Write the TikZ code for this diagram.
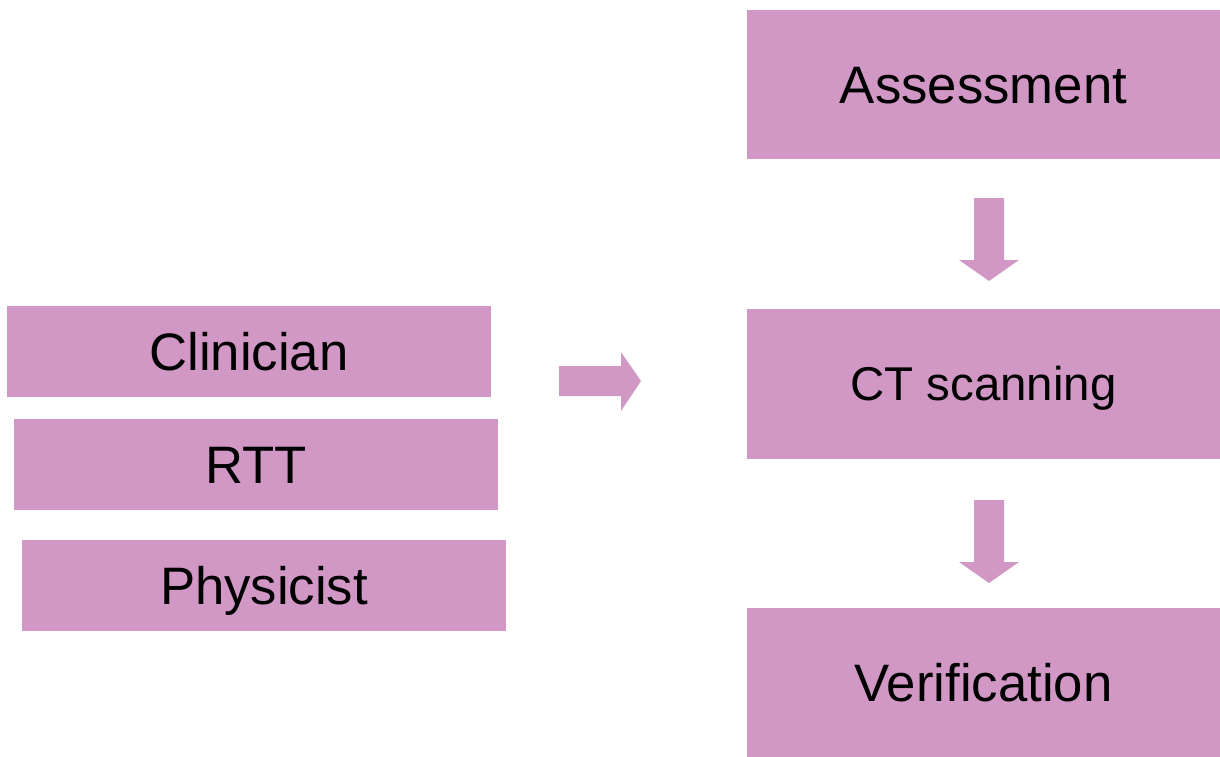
\documentclass[tikz,border=0pt]{standalone}
\usepackage{fontspec}
\setmainfont{Liberation Sans}
\usetikzlibrary{positioning}
\definecolor{orchid}{HTML}{D197C5}

\tikzset{
  rolebox/.style={fill=orchid,minimum width=9.68cm,minimum height=1.82cm,
    inner sep=0pt,text height=21.5pt,text depth=0pt,font=\fontsize{30}{36}\selectfont},
  stagebox/.style={fill=orchid,minimum width=9.46cm,minimum height=3cm,
    inner sep=0pt,text height=21.5pt,text depth=0pt,font=\fontsize{30}{36}\selectfont},
}

\begin{document}
\begin{tikzpicture}[x=0.02cm,y=-0.02cm]
  \useasboundingbox (0,0) rectangle (1220,757);
  % staff on the left
  \node[rolebox] (clin) at (249,351.5) {Clinician};
  \node[rolebox] (rtt) at (256,464.5) {RTT};
  \node[rolebox] (phys) at (264,585.5) {Physicist};
  % workflow on the right
  \node[stagebox] (assess) at (983.5,84.5) {Assessment};
  \node[stagebox,text height=19.3pt,font=\fontsize{27}{32}\selectfont] (ct) at (983.5,384) {CT scanning};
  \node[stagebox] (verif) at (983.5,682.5) {Verification};
  % block arrows
  \fill[orchid] (559,366) -- (621,366) -- (621,352) -- (641,381) -- (621,411)
    -- (621,396) -- (559,396) -- cycle;
  \fill[orchid] (974,198) -- (1004,198) -- (1004,260) -- (1019,260) -- (989,281)
    -- (959,260) -- (974,260) -- cycle;
  \fill[orchid] (974,500) -- (1004,500) -- (1004,562) -- (1019,562) -- (989,583)
    -- (959,562) -- (974,562) -- cycle;
\end{tikzpicture}
\end{document}
